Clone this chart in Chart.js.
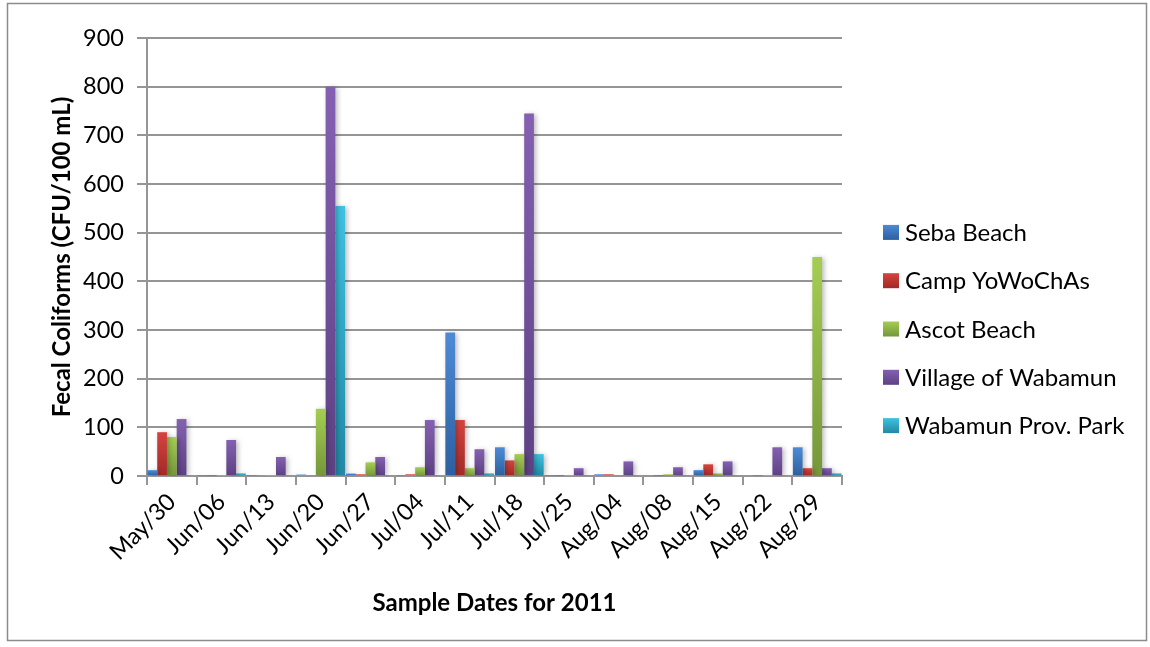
<!DOCTYPE html>
<html>
<head>
<meta charset="utf-8">
<script src="https://cdn.jsdelivr.net/npm/chart.js@4"></script>
<style>
  html, body { margin: 0; padding: 0; background: #ffffff; }
  canvas { display: block; }
</style>
</head>
<body>
<canvas id="c" width="1150" height="647"></canvas>
<script>
// Sample dates (2011)
const dates = ['May/30', 'Jun/06', 'Jun/13', 'Jun/20', 'Jun/27', 'Jul/04', 'Jul/11',
               'Jul/18', 'Jul/25', 'Aug/04', 'Aug/08', 'Aug/15', 'Aug/22', 'Aug/29'];

// Fecal coliform counts (CFU/100 mL) per site
const sebaBeach      = [12, 1, 1, 3, 5, 1.5, 295, 59, 1, 3.5, 0, 12, 0, 59];
const campYoWoChAs   = [90, 1, 0, 0, 3.5, 3.5, 115, 32, 1, 3.5, 1, 24, 1.5, 16];
const ascotBeach     = [80, 1, 1, 138, 28, 18, 16, 45, 1, 0, 3.5, 5.5, 1, 450];
const villageWabamun = [117, 74, 39, 800, 39, 115, 55, 745, 16, 30, 18, 30, 59, 16];
const wabamunPark    = [0, 5.5, 1, 555, 0, 0, 5.5, 45, 0, 1, 0, 0, 1, 5.5];

const siteNames = ['Seba Beach', 'Camp YoWoChAs', 'Ascot Beach', 'Village of Wabamun', 'Wabamun Prov. Park'];
const siteValues = [sebaBeach, campYoWoChAs, ascotBeach, villageWabamun, wabamunPark];

// y-axis range and step
const yMin = 0, yMax = 900, yStep = 100;

// light (top) and dark (bottom) shade for each site's bars
const shades = [
  ['#4D8AD6', '#2C5F9F'],
  ['#D6433E', '#A22A27'],
  ['#A5CD52', '#75963A'],
  ['#8560B2', '#5C4183'],
  ['#3FC2E0', '#2189A6']
];

const FONT = 'Lato, "Liberation Sans", sans-serif';
const GRID = '#959595';

function barFill(i) {
  return (c) => {
    const chart = c.chart;
    if (!chart.chartArea || !c.parsed || c.type !== 'data') return shades[i][0];
    const ys = chart.scales.y;
    const top = ys.getPixelForValue(c.parsed.y);
    const bottom = ys.getPixelForValue(0);
    if (!(bottom - top > 0.5)) return shades[i][0];
    const g = chart.ctx.createLinearGradient(0, top, 0, bottom);
    g.addColorStop(0, shades[i][0]);
    g.addColorStop(1, shades[i][1]);
    return g;
  };
}

// soft drop shadow behind the bars
const barShadow = {
  id: 'barShadow',
  beforeDatasetsDraw(chart) {
    const ctx = chart.ctx;
    ctx.save();
    ctx.shadowColor = 'rgba(0,0,0,0.28)';
    ctx.shadowBlur = 5;
    ctx.shadowOffsetX = 2;
    ctx.shadowOffsetY = 1;
  },
  afterDatasetsDraw(chart) {
    chart.ctx.restore();
  }
};

// outer frame and the site legend on the right
const frameAndLegend = {
  id: 'frameAndLegend',
  afterDraw(chart) {
    const ctx = chart.ctx;
    ctx.save();
    ctx.strokeStyle = '#8C8C8C';
    ctx.lineWidth = 1.5;
    ctx.strokeRect(7.5, 3.5, 1139, 637);

    const rowH = 48.3;
    const midY = 329;
    const boxX = 883, boxW = 16, boxH = 15, textX = 905;
    ctx.font = '24px ' + FONT;
    ctx.textBaseline = 'middle';
    ctx.textAlign = 'left';
    chart.data.datasets.forEach((ds, i) => {
      const cy = midY + (i - 2) * rowH;
      const g = ctx.createLinearGradient(0, cy - boxH / 2, 0, cy + boxH / 2);
      g.addColorStop(0, shades[i][0]);
      g.addColorStop(1, shades[i][1]);
      ctx.fillStyle = g;
      ctx.fillRect(boxX, cy - boxH / 2, boxW, boxH);
      ctx.fillStyle = '#000000';
      ctx.fillText(ds.label, textX, cy + 1);
    });
    ctx.restore();
  }
};

new Chart(document.getElementById('c'), {
  type: 'bar',
  data: {
    labels: dates,
    datasets: siteNames.map((name, i) => ({
      label: name,
      data: siteValues[i],
      backgroundColor: barFill(i),
      borderWidth: 0,
      categoryPercentage: 0.98,
      barPercentage: 1.0
    }))
  },
  options: {
    responsive: false,
    animation: false,
    devicePixelRatio: 1,
    layout: { padding: { left: 0, top: 38, right: 308, bottom: 0 } },
    plugins: {
      legend: { display: false },
      tooltip: { enabled: false }
    },
    scales: {
      x: {
        grid: {
          display: true,
          drawOnChartArea: false,
          drawTicks: true,
          tickLength: 9,
          color: GRID,
          lineWidth: 2,
          offset: true
        },
        border: { display: true, color: GRID, width: 2 },
        ticks: {
          color: '#000000',
          font: { family: FONT, size: 23.5 },
          minRotation: 45,
          maxRotation: 45,
          autoSkip: false,
          padding: 3
        },
        title: {
          display: true,
          text: 'Sample Dates for 2011',
          color: '#000000',
          font: { family: FONT, size: 24, weight: 'bold' },
          padding: { top: 0, bottom: 29.5 }
        },
        afterFit(scale) { scale.height = 171; }
      },
      y: {
        min: yMin,
        max: yMax,
        grid: {
          color: GRID,
          lineWidth: 2,
          drawTicks: true,
          tickLength: 10
        },
        border: { display: true, color: GRID, width: 2 },
        ticks: {
          stepSize: yStep,
          color: '#000000',
          font: { family: FONT, size: 23.5 },
          padding: 13
        },
        title: {
          display: true,
          text: 'Fecal Coliforms (CFU/100 mL)',
          color: '#000000',
          font: { family: FONT, size: 24, weight: 'bold' },
          padding: { top: 47.5, bottom: 0 }
        },
        afterFit(scale) { scale.width = 147; }
      }
    }
  },
  plugins: [barShadow, frameAndLegend]
});
</script>
</body>
</html>
